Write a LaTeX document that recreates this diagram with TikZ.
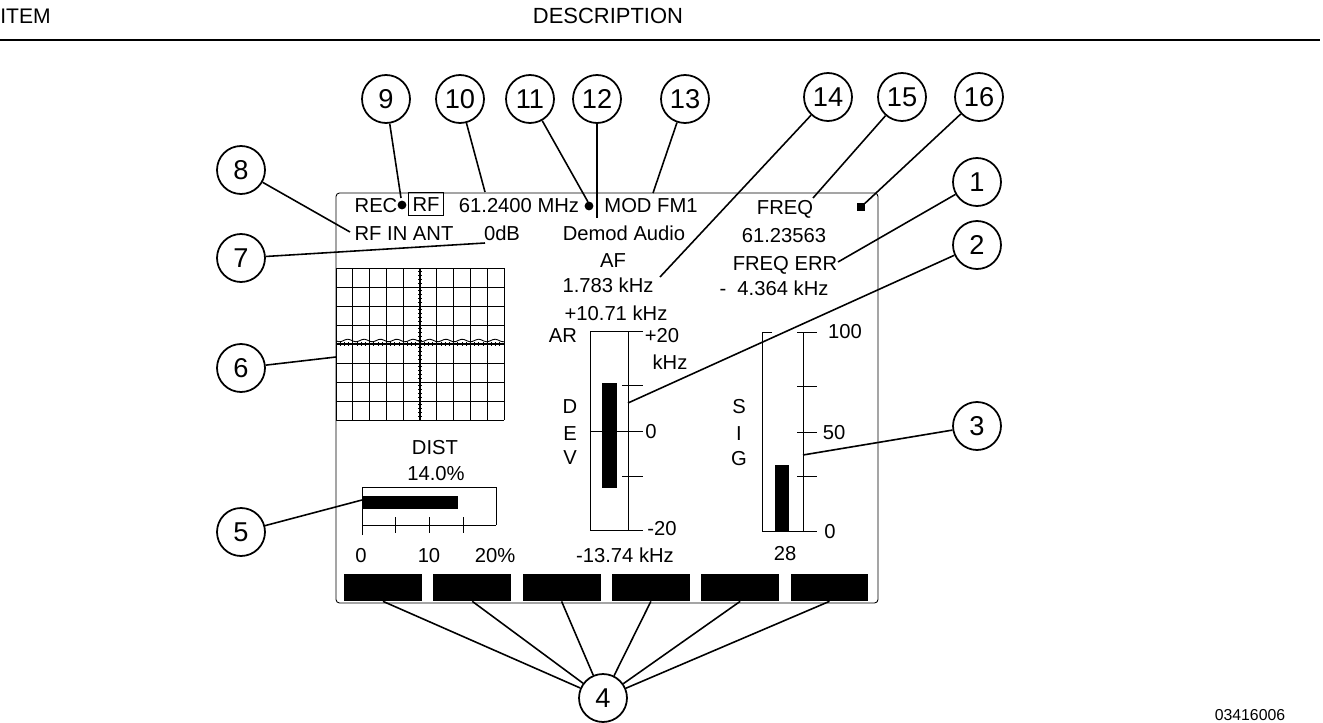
\documentclass[tikz,border=0pt]{standalone}
\usepackage{fontspec}
\setmainfont{Liberation Sans}
\usepackage{tikz}
\usetikzlibrary{calc}

\newcommand{\scrfont}{\fontsize{11.5}{13}\selectfont}
\newcommand{\numfont}{\fontsize{15.5}{17}\selectfont}

\begin{document}
\begin{tikzpicture}[x=0.02cm, y=-0.02cm, every node/.style={inner sep=0pt},
  scr/.style={font=\scrfont, text height=8.2pt, text depth=0pt},
  callout/.style={circle, draw, line width=1pt, minimum size=0.96cm, font=\numfont},
  lead/.style={line width=0.9pt},
  frm/.style={line width=0.5pt},
  softkey/.style={fill=black, minimum width=1.56cm, minimum height=0.54cm},
  dot/.style={circle, fill=black, minimum size=5pt}]
  \useasboundingbox (0,0) rectangle (1323,723);
  % Header
  \node[font=\fontsize{12}{14}\selectfont, anchor=west] (item) at (0,16) {ITEM};
  \node[font=\fontsize{12.5}{14}\selectfont] (desc) at (608,16) {DESCRIPTION};
  \draw[line width=1.2pt] (0,40) -- (1320,40);
  % Screen frame
  \draw[frm, rounded corners=2pt] (336,193) rectangle (878,603);
  % Top status line
  \node[scr] (rec) at (376,205) {REC};
  \node[dot] (dot1) at (402,205) {};
  \node[scr, draw, line width=0.5pt, inner sep=2.3pt] (rf) at (426,204) {RF};
  \node[scr] (tune) at (519,205) {61.2400 MHz};
  \node[dot] (dot2) at (589,206) {};
  \node[scr] (mod) at (651,205) {MOD FM1};
  \node[scr] (rfin) at (404,233) {RF IN ANT};
  \node[scr] (atten) at (502,233) {0dB};
  \node[fill=black, minimum width=4pt, minimum height=5pt] (cursor) at (861,207) {};
  % Audio readout
  \node[scr] (demod) at (624,233) {Demod Audio};
  \node[scr] (af) at (613,260) {AF};
  \node[scr] (afval) at (608,285) {1.783 kHz};
  \node[scr] (devpk) at (616,313) {+10.71 kHz};
  % Frequency readout
  \node[scr] (freq) at (785,207) {FREQ};
  \node[scr] (freqval) at (784,235) {61.23563};
  \node[scr] (ferr) at (785,263) {FREQ ERR};
  \node[scr] (ferrval) at (774,288) {-\ \ 4.364 kHz};
  % Scope grid
  \foreach \i in {0,...,10}
    \draw[frm] ({336+16.8*\i},268) -- ({336+16.8*\i},420);
  \foreach \j in {0,...,8}
    \draw[frm] (336,{268+19*\j}) -- (504,{268+19*\j});
  \draw[line width=0.9pt] (420,268) -- (420,420);
  \draw[line width=0.9pt] (336,344) -- (504,344);
  \foreach \i in {0,...,40} {
    \draw[frm] ({336+4.2*\i},342) -- ({336+4.2*\i},346);
    \draw[frm] (418,{268+3.8*\i}) -- (422,{268+3.8*\i});
  }
  \draw[frm] plot[smooth, domain=336:504, samples=60] (\x,{340.5-1.3*sin(22*\x)});
  % DEV meter
  \node[scr] (ar) at (563,335) {AR};
  \node[scr] (devtop) at (662,335) {+20};
  \node[scr] (devunit) at (670,362) {kHz};
  \node[scr] (dd) at (570,406) {D};
  \node[scr] (de) at (570,433) {E};
  \node[scr] (dv) at (570,457) {V};
  \node[scr] (devzero) at (651,431) {0};
  \node[scr] (devbot) at (662,528) {-20};
  \node[scr] (devneg) at (625,555) {-13.74 kHz};
  \draw[frm] (627,331) -- (590,331) -- (590,530) -- (627,530);
  \draw[frm] (628,331) -- (628,530);
  \foreach \y in {331,385,476,530}
    \draw[frm] (622,\y) -- (643,\y);
  \draw[frm] (590,431) -- (643,431);
  \fill (602,383) rectangle (617,488);
  % DIST meter
  \node[scr] (dist) at (435,447) {DIST};
  \node[scr] (distval) at (436,473) {14.0\%};
  \node[scr] (dist0) at (361,555) {0};
  \node[scr] (dist10) at (429,555) {10};
  \node[scr] (dist20) at (495,555) {20\%};
  \draw[frm] (362,535) -- (362,487) -- (496,487) -- (496,525);
  \draw[frm] (362,525) -- (496,525);
  \foreach \x in {395,429,463}
    \draw[frm] (\x,517) -- (\x,533);
  \fill (362,496) rectangle (458,509);
  % SIG meter
  \node[scr] (ss) at (739,406) {S};
  \node[scr] (si) at (739,433) {I};
  \node[scr] (sg) at (739,458) {G};
  \node[scr] (sig100) at (845,331) {100};
  \node[scr] (sig50) at (834,432) {50};
  \node[scr] (sig0) at (830,531) {0};
  \node[scr] (sigval) at (785,553) {28};
  \draw[frm] (772,332) -- (762,332) -- (762,531) -- (817,531);
  \draw[frm] (803,332) -- (803,531);
  \foreach \y in {332,386,432,476}
    \draw[frm] (797,\y) -- (817,\y);
  \fill (775,465) rectangle (789,531);
  % Softkeys
  \foreach \i in {1,...,6}
    \node[softkey] (k\i) at ({383+89.3*(\i-1)},587.5) {};
  % Callouts
  \node[callout] (c1) at (977,182) {1};
  \node[callout] (c2) at (977,245) {2};
  \node[callout] (c3) at (977,426) {3};
  \node[callout] (c4) at (603,698) {4};
  \node[callout] (c5) at (241,532) {5};
  \node[callout] (c6) at (241,368) {6};
  \node[callout] (c7) at (241,258) {7};
  \node[callout] (c8) at (241,170) {8};
  \node[callout] (c9) at (386,99) {9};
  \node[callout] (c10) at (460,99) {10};
  \node[callout] (c11) at (530,99) {11};
  \node[callout] (c12) at (597,99) {12};
  \node[callout] (c13) at (685,99) {13};
  \node[callout] (c14) at (828,97) {14};
  \node[callout] (c15) at (902,97) {15};
  \node[callout] (c16) at (979,97) {16};
  % Leader ends
  \coordinate (p1) at (838,262);
  \coordinate (p2) at (628,403);
  \coordinate (p3) at (803,455);
  \coordinate (p5) at (362,500);
  \coordinate (p6) at (336,357);
  \coordinate (p7) at (485,243);
  \coordinate (p8) at (350,232);
  \coordinate (p9) at (401,198);
  \coordinate (p10) at (485,192);
  \coordinate (p11) at (588,202);
  \coordinate (p12) at (597,218);
  \coordinate (p13) at (653,193);
  \coordinate (p14) at (660,277);
  \coordinate (p15) at (813,198);
  % Leaders
  \foreach \n in {1,2,3,5,6,7,8,9,10,11,12,13,14,15}
    \draw[lead] (c\n) -- (p\n);
  \draw[lead] (c16) -- (cursor);
  \foreach \i in {1,...,6}
    \draw[lead] (k\i.south) -- (c4);
  % Figure number
  \node[font=\fontsize{9}{10}\selectfont, anchor=north] (figno) at (1250,709) {03416006};
\end{tikzpicture}
\end{document}
